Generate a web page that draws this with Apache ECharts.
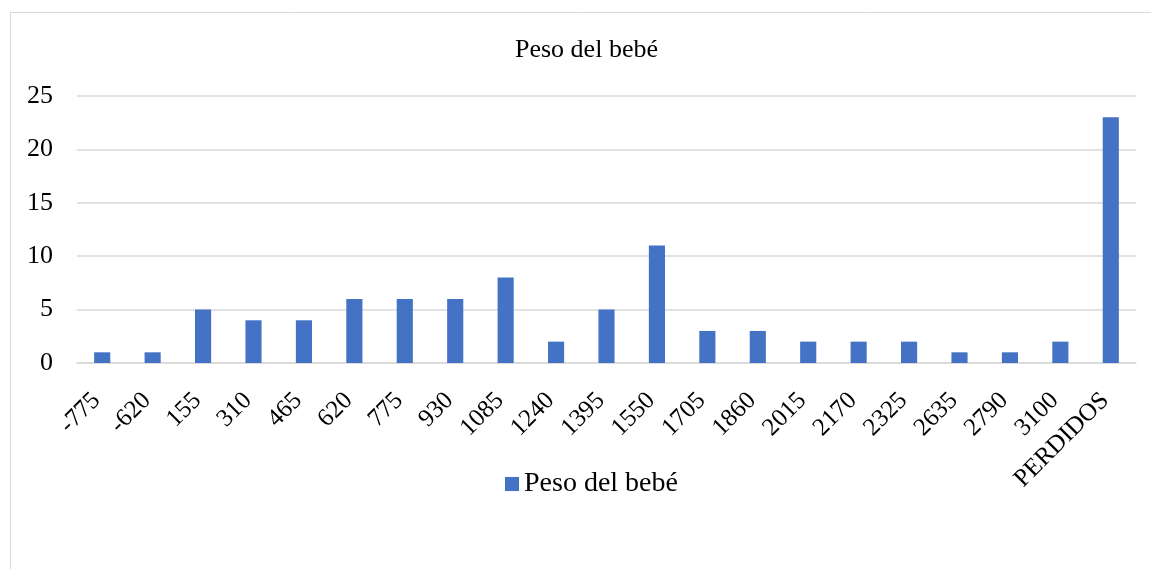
<!DOCTYPE html>
<html>
<head>
<meta charset="utf-8">
<script src="https://cdn.jsdelivr.net/npm/echarts@6/dist/echarts.min.js"></script>
<style>
html,body{margin:0;padding:0;background:#fff;}
#chart{width:1151px;height:569px;}
</style>
</head>
<body>
<div id="chart"></div>
<script>
// Birth weight frequency by bin
const categories = ['-775','-620','155','310','465','620','775','930','1085','1240','1395','1550','1705','1860','2015','2170','2325','2635','2790','3100','PERDIDOS'];
const counts = [1,1,5,4,4,6,6,6,8,2,5,11,3,3,2,2,2,1,1,2,23];
const yTicks = {min: 0, max: 25, interval: 5};
const seriesName = 'Peso del bebé';

const font = '"Liberation Serif", "Times New Roman", serif';
const chart = echarts.init(document.getElementById('chart'));
chart.setOption({
  animation: false,
  graphic: [{
    type: 'rect',
    shape: {x: 10.5, y: 12.5, width: 1200, height: 600},
    style: {fill: 'none', stroke: '#d9d9d9', lineWidth: 1},
    silent: true
  }],
  title: {
    text: seriesName,
    left: 510,
    top: 32,
    textStyle: {fontFamily: font, fontSize: 26, fontWeight: 'normal', color: '#000'}
  },
  legend: {
    top: 465,
    left: 500,
    itemWidth: 14,
    itemHeight: 14,
    icon: 'rect',
    itemGap: 8,
    textStyle: {fontFamily: font, fontSize: 28, color: '#000'},
    data: [seriesName]
  },
  grid: {left: 77, right: 15, top: 96, bottom: 206, containLabel: false},
  xAxis: {
    type: 'category',
    data: categories,
    axisLine: {lineStyle: {color: '#d9d9d9', width: 1.5}},
    axisTick: {show: false},
    axisLabel: {
      rotate: 45,
      interval: 0,
      margin: 28,
      padding: [0, 8, 0, 0],
      fontFamily: font,
      fontSize: 25,
      color: '#000'
    }
  },
  yAxis: {
    type: 'value',
    min: yTicks.min,
    max: yTicks.max,
    interval: yTicks.interval,
    axisLine: {show: false},
    axisTick: {show: false},
    splitLine: {lineStyle: {color: '#d9d9d9', width: 1.5}},
    axisLabel: {margin: 24, fontFamily: font, fontSize: 26, color: '#000'}
  },
  series: [{
    name: seriesName,
    type: 'bar',
    data: counts,
    barWidth: '32%',
    itemStyle: {color: '#4472c4'}
  }]
});
</script>
</body>
</html>
